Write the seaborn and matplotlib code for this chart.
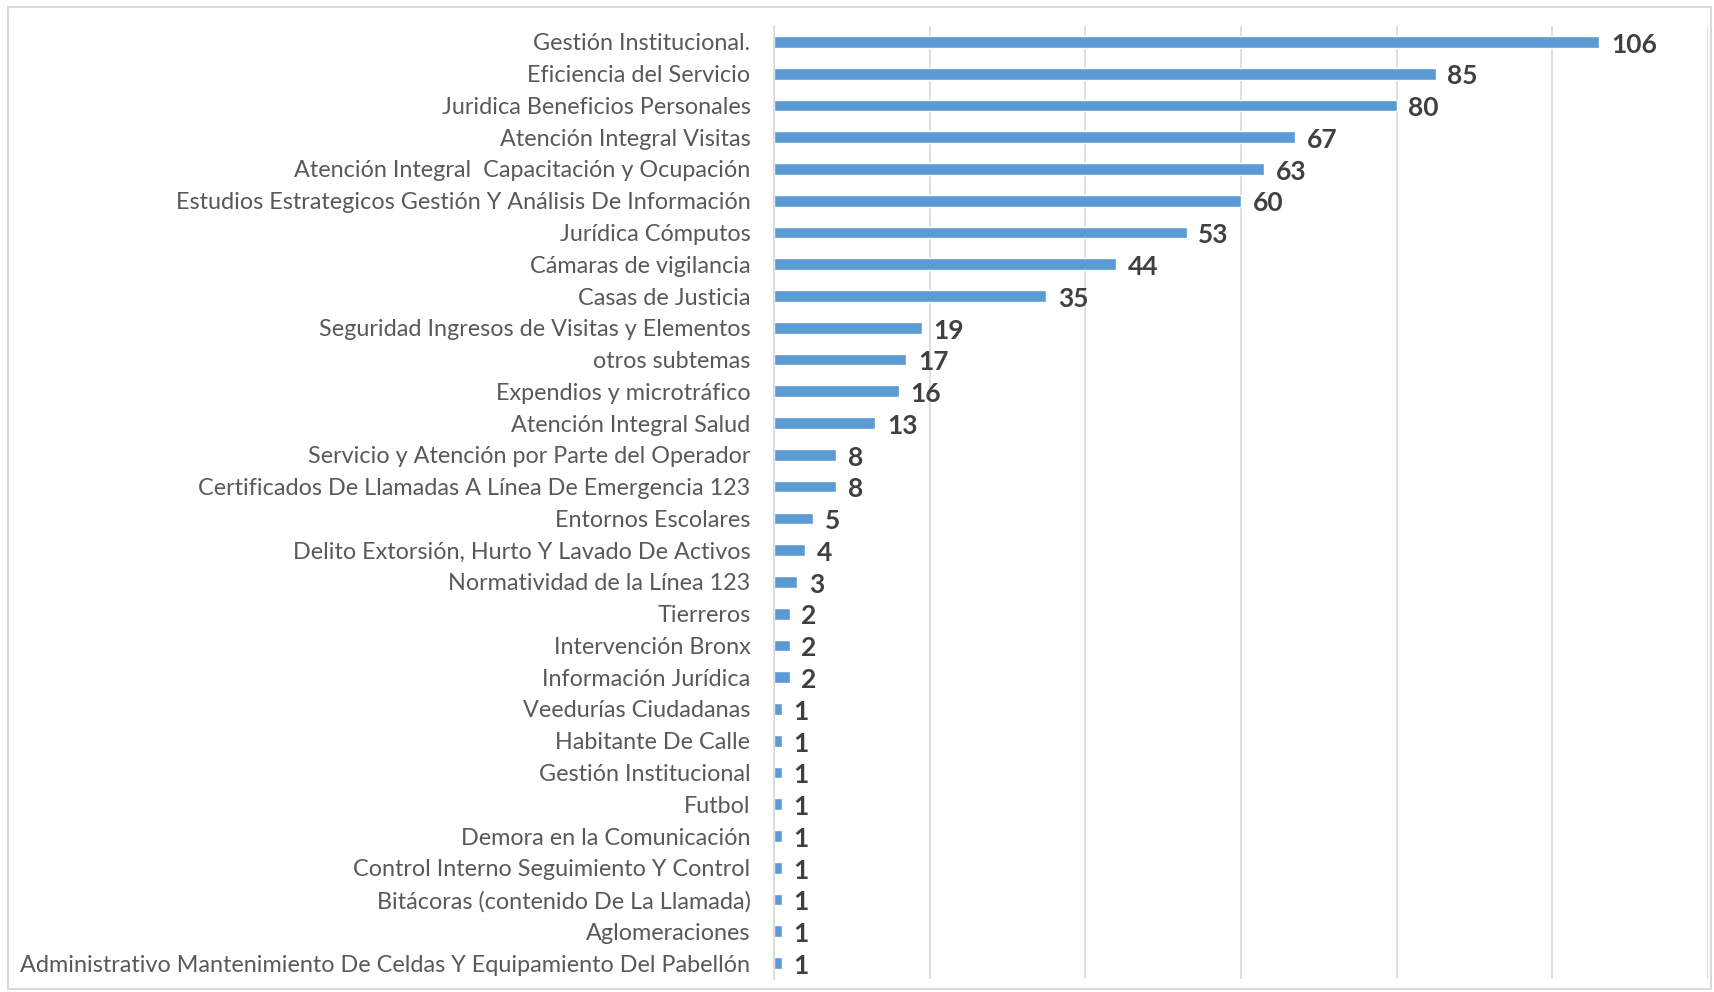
import matplotlib
matplotlib.use("Agg")
import matplotlib.pyplot as plt
import seaborn as sns
import pandas as pd
from matplotlib.patches import Rectangle

categories = [
    "Gestión Institucional.",
    "Eficiencia del Servicio",
    "Juridica Beneficios Personales",
    "Atención Integral Visitas",
    "Atención Integral  Capacitación y Ocupación",
    "Estudios Estrategicos Gestión Y Análisis De Información",
    "Jurídica Cómputos",
    "Cámaras de vigilancia",
    "Casas de Justicia",
    "Seguridad Ingresos de Visitas y Elementos",
    "otros subtemas",
    "Expendios y microtráfico",
    "Atención Integral Salud",
    "Servicio y Atención por Parte del Operador",
    "Certificados De Llamadas A Línea De Emergencia 123",
    "Entornos Escolares",
    "Delito Extorsión, Hurto Y Lavado De Activos",
    "Normatividad de la Línea 123",
    "Tierreros",
    "Intervención Bronx",
    "Información Jurídica",
    "Veedurías Ciudadanas",
    "Habitante De Calle",
    "Gestión Institucional",
    "Futbol",
    "Demora en la Comunicación",
    "Control Interno Seguimiento Y Control",
    "Bitácoras (contenido De La Llamada)",
    "Aglomeraciones",
    "Administrativo Mantenimiento De Celdas Y Equipamiento Del Pabellón",
]
values = [106, 85, 80, 67, 63, 60, 53, 44, 35, 19, 17, 16, 13, 8, 8, 5, 4, 3,
          2, 2, 2, 1, 1, 1, 1, 1, 1, 1, 1, 1]

df = pd.DataFrame({"cat": categories, "val": values})

sns.set_style("white")
plt.rcParams["font.family"] = ["Lato", "DejaVu Sans"]

fig = plt.figure(figsize=(17.14, 9.92), dpi=100)
ax = fig.add_axes([774 / 1714, 1 - 979 / 992, (1708 - 774) / 1714, (979 - 26) / 992])

sns.barplot(data=df, x="val", y="cat", orient="h", color="#5B9BD5",
            width=0.37, saturation=1, ax=ax, order=categories)

ax.set_xlim(0, 120)
ax.set_xticks(range(0, 121, 20))
ax.set_xticklabels([])
ax.tick_params(axis="x", length=0)
ax.tick_params(axis="y", length=0, pad=17, labelsize=16.8, labelcolor="#595959")
ax.xaxis.grid(True, color="#D9D9D9", linewidth=1.2)
ax.set_axisbelow(True)
ax.set_xlabel("")
ax.set_ylabel("")
for s in ["top", "right", "bottom"]:
    ax.spines[s].set_visible(False)
ax.spines["left"].set_color("#D9D9D9")
ax.spines["left"].set_linewidth(1.2)

for p, v in zip(ax.patches, values):
    ax.annotate(str(v), xy=(p.get_width(), p.get_y() + p.get_height() / 2),
                xytext=(8.5, -2), textcoords="offset points",
                ha="left", va="center", fontsize=19, fontweight="bold",
                color="#404040")

fig.patches.append(Rectangle((8 / 1714, 3 / 992), 1703 / 1714, 982 / 992,
                             transform=fig.transFigure, fill=False,
                             edgecolor="#D9D9D9", linewidth=1.5))

fig.savefig("out.png", dpi=100)
